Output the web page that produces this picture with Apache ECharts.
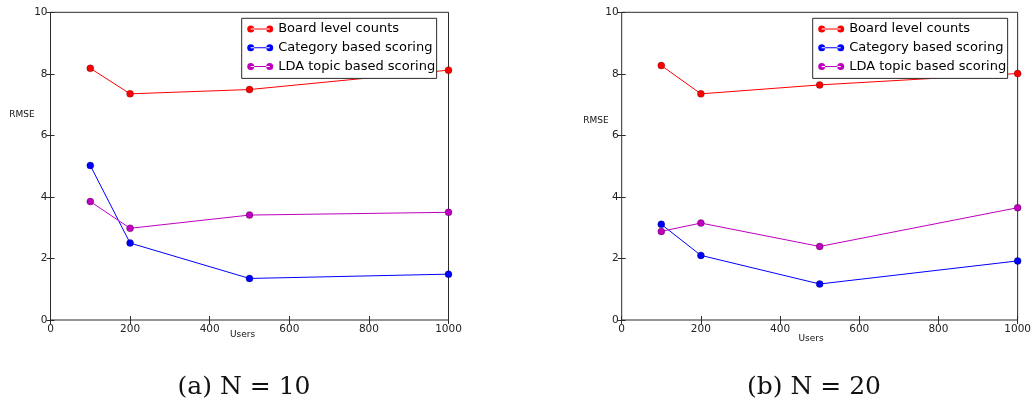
<!DOCTYPE html>
<html>
<head>
<meta charset="utf-8">
<title>RMSE vs Users</title>
<script src="https://cdn.jsdelivr.net/npm/echarts@6/dist/echarts.min.js"></script>
<style>
  html, body { margin: 0; padding: 0; background: #fff; }
  #chart { width: 1034px; height: 406px; }
</style>
</head>
<body>
<div id="chart"></div>
<script>
// Number of users on the x axis (shared by both panels)
const users = [100, 200, 500, 1000];
const seriesNames = ['Board level counts', 'Category based scoring', 'LDA topic based scoring'];
const xTicks = [0, 200, 400, 600, 800, 1000];
const yTicks = [0, 2, 4, 6, 8, 10];

// Panel (a): N = 10
const boardN10 = [8.18, 7.35, 7.49, 8.12];
const categoryN10 = [5.02, 2.50, 1.35, 1.49];
const ldaN10 = [3.85, 2.98, 3.41, 3.50];

// Panel (b): N = 20
const boardN20 = [8.27, 7.35, 7.64, 8.01];
const categoryN20 = [3.11, 2.10, 1.17, 1.92];
const ldaN20 = [2.88, 3.15, 2.39, 3.65];

const captions = ['(a) N = 10', '(b) N = 20'];
const colors = ['#ff0000', '#0000ff', '#bf00bf'];

const chart = echarts.init(document.getElementById('chart'), null, { renderer: 'canvas' });

const font = 'DejaVu Sans';
const frame = '#2a2a2a';

// Two panels: plot area boxes
const grids = [
  { left: 50.5, top: 12.3, width: 398, height: 307.7 },
  { left: 621.7, top: 12.3, width: 397.6, height: 307.7 }
].map(g => Object.assign({
  show: true, borderColor: frame, borderWidth: 1, backgroundColor: 'transparent'
}, g));

function xAxisFor(gridIndex, position) {
  return {
    type: 'value', gridIndex, position,
    min: xTicks[0], max: xTicks[xTicks.length - 1], interval: xTicks[1] - xTicks[0],
    axisLine: { show: false },
    axisTick: { show: true, inside: true, length: 4, lineStyle: { color: frame, width: 1 } },
    axisLabel: {
      show: position === 'bottom', margin: 4, fontFamily: font, fontSize: 10.5, color: '#222',
      formatter: v => String(v)
    },
    splitLine: { show: false }
  };
}
function yAxisFor(gridIndex, position) {
  return {
    type: 'value', gridIndex, position,
    min: yTicks[0], max: yTicks[yTicks.length - 1], interval: yTicks[1] - yTicks[0],
    axisLine: { show: false },
    axisTick: { show: true, inside: true, length: 4, lineStyle: { color: frame, width: 1 } },
    axisLabel: {
      show: position === 'left', margin: 3, fontFamily: font, fontSize: 10.5, color: '#222',
      formatter: v => String(v)
    },
    splitLine: { show: false }
  };
}

const xAxes = [xAxisFor(0, 'bottom'), xAxisFor(0, 'top'), xAxisFor(1, 'bottom'), xAxisFor(1, 'top')];
const yAxes = [yAxisFor(0, 'left'), yAxisFor(0, 'right'), yAxisFor(1, 'left'), yAxisFor(1, 'right')];

function lineSeries(name, values, colorIdx, axisIdx) {
  return {
    type: 'line', name,
    xAxisIndex: axisIdx, yAxisIndex: axisIdx,
    data: users.map((u, i) => [u, values[i]]),
    symbol: 'circle', symbolSize: 7,
    showSymbol: true,
    lineStyle: { color: colors[colorIdx], width: 1 },
    itemStyle: { color: colors[colorIdx], borderColor: 'rgba(0,0,0,0.45)', borderWidth: 0.6 },
    emphasis: { disabled: true },
    animation: false,
    z: 2
  };
}

const series = [
  lineSeries(seriesNames[0], boardN10, 0, 0),
  lineSeries(seriesNames[1], categoryN10, 1, 0),
  lineSeries(seriesNames[2], ldaN10, 2, 0),
  lineSeries(seriesNames[0], boardN20, 0, 2),
  lineSeries(seriesNames[1], categoryN20, 1, 2),
  lineSeries(seriesNames[2], ldaN20, 2, 2)
];

// Legend icon: a short line with a dot at each end
const legendIcon = 'path://M0,3.5a3.5,3.5 0 1,0 7,0a3.5,3.5 0 1,0 -7,0Z' +
  'M19,3.5a3.5,3.5 0 1,0 7,0a3.5,3.5 0 1,0 -7,0Z' +
  'M3.5,3L22.5,3L22.5,4L3.5,4Z';

function legendAt(left) {
  return {
    orient: 'vertical', left, top: 18.3,
    data: seriesNames,
    icon: legendIcon, itemWidth: 26, itemHeight: 7,
    itemGap: 4.7, itemTextGap: 10.5,
    padding: [3.7, 1.5, 5, 5.5],
    backgroundColor: '#fff', borderColor: frame, borderWidth: 1,
    itemStyle: { borderWidth: 0 },
    selectedMode: false,
    textStyle: { fontFamily: font, fontSize: 13, lineHeight: 14, color: '#000' },
    z: 10
  };
}

function label(text, x, y, size, family) {
  return {
    type: 'text', x, y,
    style: { text, fontFamily: family || font, fontSize: size, fill: '#111', align: 'center', verticalAlign: 'middle' }
  };
}

chart.setOption({
  animation: false,
  backgroundColor: '#fff',
  grid: grids,
  xAxis: xAxes,
  yAxis: yAxes,
  legend: [legendAt(241.7), legendAt(812.7)],
  series,
  graphic: [
    label('RMSE', 22, 114.3, 9),
    label('RMSE', 596, 121, 9),
    label('Users', 242.5, 334.5, 9),
    label('Users', 811, 338.5, 9),
    label(captions[0], 244, 387, 25, 'DejaVu Serif'),
    label(captions[1], 814, 387, 25, 'DejaVu Serif')
  ]
});
</script>
</body>
</html>
